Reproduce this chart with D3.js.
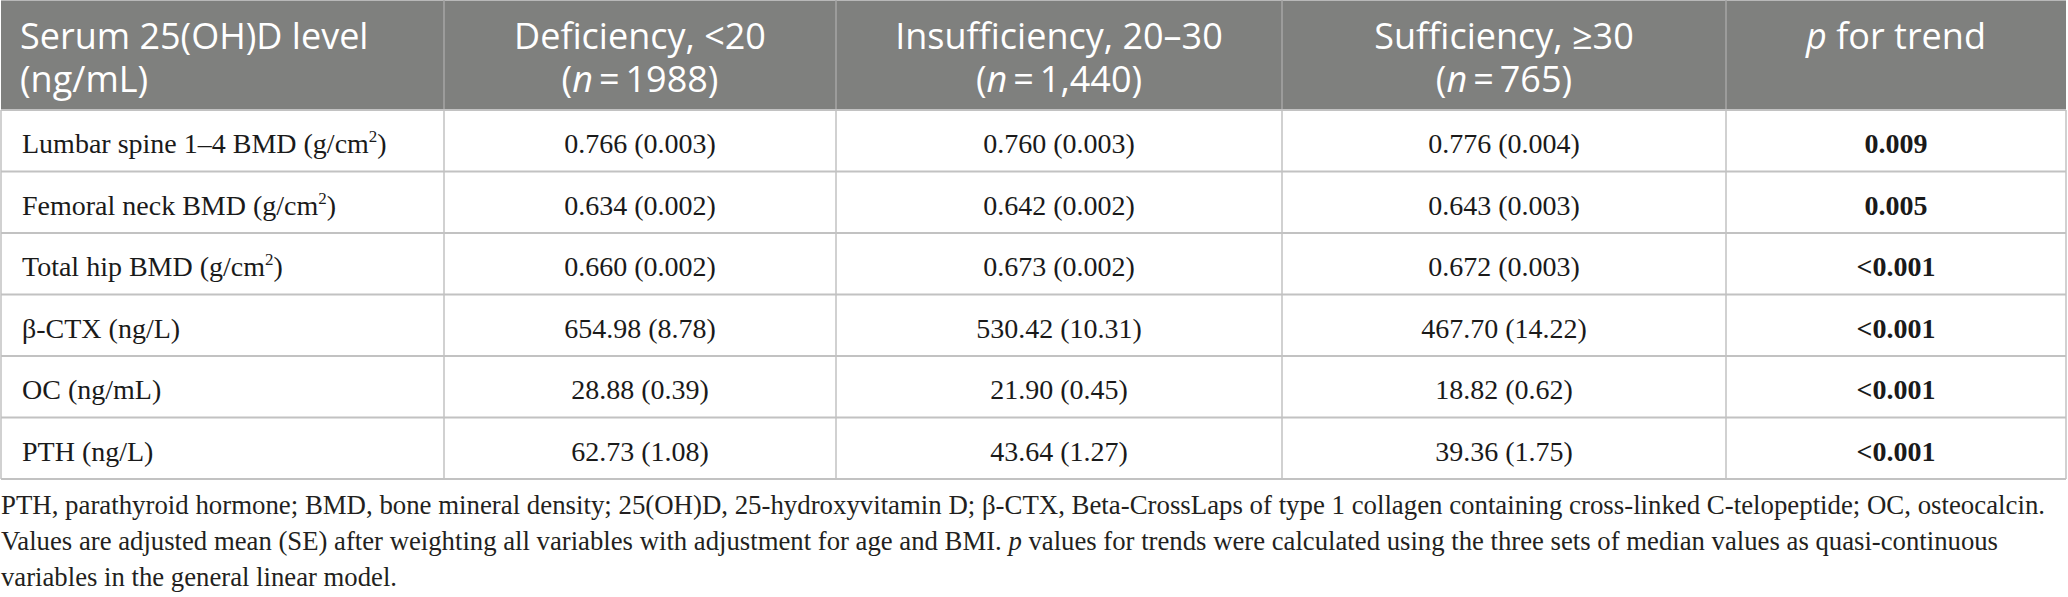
<!DOCTYPE html>
<html>
<head>
<meta charset="utf-8">
<script src="https://cdn.jsdelivr.net/npm/d3@7"></script>
<style>
  html, body { margin: 0; padding: 0; background: #ffffff; }
  svg { display: block; }
</style>
</head>
<body>
<script>
// ---------- data ----------
const headerTitle = ["Serum 25(OH)D level", "(ng/mL)"];
const groupNames = ["Deficiency, <20", "Insufficiency, 20\u201330", "Sufficiency, \u226530"];
const groupN = ["1988", "1,440", "765"];
const rowLabels = [
  "Lumbar spine 1\u20134 BMD (g/cm2)",
  "Femoral neck BMD (g/cm2)",
  "Total hip BMD (g/cm2)",
  "\u03b2-CTX (ng/L)",
  "OC (ng/mL)",
  "PTH (ng/L)"
];
const deficiency   = ["0.766 (0.003)", "0.634 (0.002)", "0.660 (0.002)", "654.98 (8.78)", "28.88 (0.39)", "62.73 (1.08)"];
const insufficiency= ["0.760 (0.003)", "0.642 (0.002)", "0.673 (0.002)", "530.42 (10.31)", "21.90 (0.45)", "43.64 (1.27)"];
const sufficiency  = ["0.776 (0.004)", "0.643 (0.003)", "0.672 (0.003)", "467.70 (14.22)", "18.82 (0.62)", "39.36 (1.75)"];
const pTrend       = ["0.009", "0.005", "<0.001", "<0.001", "<0.001", "<0.001"];
const footnote1 = "PTH, parathyroid hormone; BMD, bone mineral density; 25(OH)D, 25-hydroxyvitamin D; \u03b2-CTX, Beta-CrossLaps of type 1 collagen containing cross-linked C-telopeptide; OC, osteocalcin.";
const footnote2a = "Values are adjusted mean (SE) after weighting all variables with adjustment for age and BMI. ";
const footnote2b = " values for trends were calculated using the three sets of median values as quasi-continuous";
const footnote3 = "variables in the general linear model.";

// ---------- layout ----------
const W = 2068, H = 597;
const colEdges = [1, 444, 836, 1282, 1726, 2066];
const headBottom = 110, tableBottom = 479;
const headFill = "#7f807e", gridCol = "#c2c2c2", headDiv = "#a6a6a6";
const serif = "'Liberation Serif', 'Times New Roman', serif";
const sans = "'Open Sans', 'Noto Sans', sans-serif";

const svg = d3.select("body").append("svg").attr("width", W).attr("height", H);
svg.append("rect").attr("width", W).attr("height", H).attr("fill", "#fff");

const y = d3.scaleBand().domain(d3.range(rowLabels.length)).range([headBottom, tableBottom]);
const cx = i => (colEdges[i] + colEdges[i + 1]) / 2;

// header background
svg.append("rect").attr("x", colEdges[0]).attr("y", 0)
  .attr("width", colEdges[5] - colEdges[0]).attr("height", headBottom).attr("fill", headFill);
svg.append("line").attr("x1", colEdges[0]).attr("x2", colEdges[5]).attr("y1", 0.5).attr("y2", 0.5)
  .attr("stroke", "#b8b8b8").attr("stroke-width", 1);
svg.selectAll("line.hdiv").data(colEdges.slice(1, 5)).enter().append("line")
  .attr("class", "hdiv").attr("x1", d => d).attr("x2", d => d).attr("y1", 0).attr("y2", headBottom)
  .attr("stroke", headDiv).attr("stroke-width", 1.5);

// header text (two-line headers as one text element each)
const hText = svg.append("g").attr("font-family", sans).attr("font-size", 36).attr("fill", "#fff");
const h0 = hText.append("text").attr("x", 20).attr("y", 49);
h0.append("tspan").attr("x", 20).attr("y", 49).text(headerTitle[0]);
h0.append("tspan").attr("x", 20).attr("y", 92).text(headerTitle[1]);
groupNames.forEach((g, i) => {
  const t = hText.append("text").attr("text-anchor", "middle");
  t.append("tspan").attr("x", cx(i + 1)).attr("y", 49).text(g);
  t.append("tspan").attr("x", cx(i + 1)).attr("y", 92).text("(");
  t.append("tspan").attr("font-style", "italic").text("n");
  t.append("tspan").text("\u2009=\u2009" + groupN[i] + ")");
});
const pt = hText.append("text").attr("x", cx(4)).attr("y", 49).attr("text-anchor", "middle");
pt.append("tspan").attr("font-style", "italic").text("p");
pt.append("tspan").text(" for trend");

// body grid
svg.selectAll("line.hrow").data(d3.range(0, rowLabels.length)).enter().append("line")
  .attr("class", "hrow").attr("x1", colEdges[0]).attr("x2", colEdges[5])
  .attr("y1", d => y(d) + y.bandwidth()).attr("y2", d => y(d) + y.bandwidth())
  .attr("stroke", gridCol).attr("stroke-width", 2);
svg.append("line").attr("x1", colEdges[0]).attr("x2", colEdges[5]).attr("y1", headBottom).attr("y2", headBottom)
  .attr("stroke", gridCol).attr("stroke-width", 2);
svg.selectAll("line.vcol").data(colEdges).enter().append("line")
  .attr("class", "vcol").attr("x1", d => d).attr("x2", d => d)
  .attr("y1", headBottom).attr("y2", tableBottom)
  .attr("stroke", gridCol).attr("stroke-width", 1.5);

// body text
const body = svg.append("g").attr("font-family", serif).attr("font-size", 28).attr("fill", "#1a1a1a");
const baseY = i => y(i) + y.bandwidth() * 0.7;
rowLabels.forEach((lab, i) => {
  const t = body.append("text").attr("x", 22).attr("y", baseY(i));
  if (lab.endsWith("cm2)")) {
    t.append("tspan").text(lab.slice(0, -2));
    t.append("tspan").attr("font-size", 17).attr("dy", -11).text("2");
    t.append("tspan").attr("dy", 11).text(")");
  } else {
    t.text(lab);
  }
});
[deficiency, insufficiency, sufficiency].forEach((arr, c) => {
  arr.forEach((v, i) => {
    body.append("text").attr("x", cx(c + 1)).attr("y", baseY(i))
      .attr("text-anchor", "middle").text(v);
  });
});
pTrend.forEach((v, i) => {
  body.append("text").attr("x", cx(4)).attr("y", baseY(i)).attr("text-anchor", "middle")
    .attr("font-weight", "bold").text(v);
});

// footnotes
const foot = svg.append("g").attr("font-family", serif).attr("font-size", 27).attr("fill", "#231f20");
foot.append("text").attr("x", 1).attr("y", 514).attr("textLength", 2044)
  .attr("lengthAdjust", "spacingAndGlyphs").text(footnote1);
const f2 = foot.append("text").attr("x", 1).attr("y", 550).attr("textLength", 1997)
  .attr("lengthAdjust", "spacingAndGlyphs");
f2.append("tspan").text(footnote2a);
f2.append("tspan").attr("font-style", "italic").text("p");
f2.append("tspan").text(footnote2b);
foot.append("text").attr("x", 1).attr("y", 586).attr("textLength", 396)
  .attr("lengthAdjust", "spacingAndGlyphs").text(footnote3);
</script>
</body>
</html>
